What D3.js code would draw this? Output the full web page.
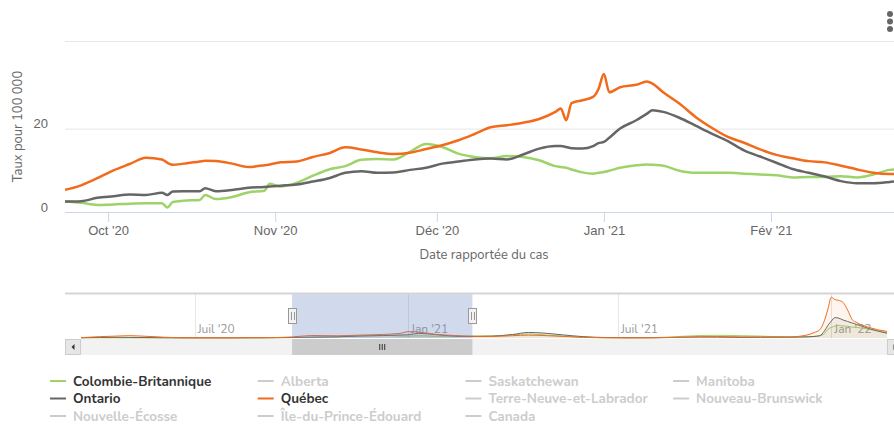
<!DOCTYPE html>
<html lang="fr">
<head>
<meta charset="utf-8">
<script src="https://cdn.jsdelivr.net/npm/d3@7"></script>
<style>
  html, body { margin: 0; padding: 0; background: #fff; overflow: hidden; }
  #chart { width: 894px; height: 425px; overflow: hidden; }
  svg { display: block; font-family: Nunito, Lato, 'Noto Sans', sans-serif; }
  .grid line { stroke: #e6e6e6; }
  .grid path { display: none; }
  .axis-label { fill: #666; font-size: 13px; }
</style>
</head>
<body>
<div id="chart"></div>
<script>
// DATA ------------------------

const dates = [
  '2020-09-23', '2020-09-26', '2020-09-29', '2020-10-02', '2020-10-05', '2020-10-08', '2020-10-11',
  '2020-10-12', '2020-10-13', '2020-10-15', '2020-10-18', '2020-10-19', '2020-10-21', '2020-10-24',
  '2020-10-27', '2020-10-30', '2020-10-31', '2020-11-02', '2020-11-05', '2020-11-08', '2020-11-11',
  '2020-11-14', '2020-11-17', '2020-11-20', '2020-11-23', '2020-11-26', '2020-11-29', '2020-12-02',
  '2020-12-05', '2020-12-08', '2020-12-11', '2020-12-14', '2020-12-17', '2020-12-20', '2020-12-23',
  '2020-12-24', '2020-12-25', '2020-12-26', '2020-12-28', '2020-12-30', '2020-12-31', '2021-01-01',
  '2021-01-02', '2021-01-04', '2021-01-07', '2021-01-09', '2021-01-10', '2021-01-12', '2021-01-15',
  '2021-01-18', '2021-01-21', '2021-01-24', '2021-01-27', '2021-01-30', '2021-02-02', '2021-02-05',
  '2021-02-08', '2021-02-11', '2021-02-14', '2021-02-17', '2021-02-20', '2021-02-23', '2021-02-25',
];

const bcValues = [
  2.5, 2.2, 1.7, 1.8, 2.0, 2.1, 2.1, 1.1, 2.4, 2.7,
  2.9, 4.1, 3.1, 3.6, 4.7, 5.1, 6.8, 6.1, 7.0, 8.7,
  10.2, 11.0, 12.5, 12.7, 12.6, 14.4, 16.3, 15.6, 14.0, 13.2,
  12.9, 13.4, 13.2, 12.4, 11.0, 10.8, 10.6, 10.2, 9.5, 9.2,
  9.4, 9.6, 9.9, 10.6, 11.2, 11.4, 11.3, 11.1, 9.9, 9.4,
  9.4, 9.4, 9.2, 9.0, 8.8, 8.3, 8.4, 8.4, 8.6, 8.3,
  9.0, 10.1, 10.3,
];

const onValues = [
  2.5, 2.6, 3.4, 3.8, 4.2, 4.1, 4.6, 4.1, 4.9, 5.0,
  5.0, 5.7, 5.0, 5.3, 5.8, 6.0, 6.1, 6.3, 6.6, 7.3,
  8.1, 9.4, 9.8, 9.4, 9.5, 10.1, 10.6, 11.6, 12.1, 12.6,
  12.8, 12.6, 13.8, 15.2, 15.8, 15.8, 15.6, 15.3, 15.2, 15.8,
  16.5, 16.8, 17.8, 20.0, 22.0, 23.6, 24.4, 24.0, 22.6, 20.7,
  18.8, 17.0, 14.8, 13.3, 11.8, 10.3, 9.4, 8.5, 7.4, 6.9,
  6.9, 7.2, 7.5,
];

const qcValues = [
  5.3, 6.4, 8.1, 10.0, 11.5, 13.0, 12.6, 11.8, 11.3, 11.6,
  12.1, 12.3, 12.2, 11.6, 10.8, 11.2, 11.4, 11.9, 12.1, 13.2,
  14.1, 15.5, 15.0, 14.3, 13.9, 14.2, 15.1, 16.0, 17.2, 18.7,
  20.3, 20.8, 21.4, 22.3, 24.0, 24.8, 22.0, 26.1, 26.8, 27.6,
  29.5, 33.1, 28.7, 29.9, 30.5, 31.3, 30.8, 28.7, 26.0, 22.8,
  20.2, 18.0, 16.6, 15.0, 13.7, 12.9, 12.2, 11.9, 11.1, 10.2,
  9.4, 9.1, 9.1,
];

// whole period, shown small in the navigator
const navDates = [
  '2020-03-25', '2020-04-10', '2020-04-25', '2020-05-06', '2020-05-20', '2020-06-05', '2020-06-22',
  '2020-08-01', '2020-09-01', '2020-09-23', '2020-10-10', '2020-11-01', '2020-11-20', '2020-12-10',
  '2020-12-25', '2021-01-01', '2021-01-10', '2021-01-25', '2021-02-10', '2021-02-25', '2021-03-15',
  '2021-04-01', '2021-04-15', '2021-05-01', '2021-05-15', '2021-06-01', '2021-06-20', '2021-07-10',
  '2021-08-01', '2021-08-20', '2021-09-10', '2021-09-25', '2021-10-15', '2021-11-01', '2021-11-26',
  '2021-12-10', '2021-12-17', '2021-12-22', '2021-12-26', '2021-12-29', '2022-01-01', '2022-01-04',
  '2022-01-07', '2022-01-11', '2022-01-15', '2022-01-19', '2022-01-23', '2022-01-28', '2022-02-03',
  '2022-02-10', '2022-02-18',
];
const navBc = [
  1, 0.8, 0.6, 0.4, 0.3, 0.3, 0.4, 1.0, 1.8,
  2.5, 2.1, 6, 12.6, 13.4, 10.6, 9.6, 11.3, 9.2, 8.4, 10.3,
  11, 17, 21, 15, 10, 5, 1.5, 0.8, 2, 7,
  13, 14, 12, 10, 5,
  6, 8, 12, 22, 45,
  55, 62, 66, 63, 61, 57, 55, 51, 45, 38, 27,
];
const navOn = [
  1, 3, 3.5, 3, 2.5, 1.5, 1, 0.6, 0.9,
  2.5, 5, 6.2, 9.8, 12.5, 15.6, 16.8, 24, 17.5, 10, 7.5,
  9.5, 18, 29, 24, 16, 7, 2.5, 1.3, 1.2, 3,
  5, 4.5, 3, 3.5, 4,
  6, 8, 12, 36, 65,
  88, 106, 104, 94, 86, 78, 70, 60, 48, 36, 25,
];
const navQc = [
  2, 7, 10, 12, 9, 4, 1.2, 1.2, 1.8,
  5.3, 13, 11.5, 15, 18.5, 24, 33, 31, 19, 13, 9,
  8.5, 12, 15, 12, 8, 3, 1.2, 1, 1.5, 3.5,
  7, 8, 6, 6, 6,
  14, 28, 43, 90, 150,
  212, 200, 196, 186, 146, 96, 80, 66, 54, 43, 34,
];

const legendNames = [
  'Colombie-Britannique', 'Alberta', 'Saskatchewan', 'Manitoba',
  'Ontario', 'Québec', 'Terre-Neuve-et-Labrador', 'Nouveau-Brunswick',
  'Nouvelle-Écosse', 'Île-du-Prince-Édouard', 'Canada',
];
const seriesColors = {
  'Colombie-Britannique': '#9ed36a',
  Ontario: '#666666',
  Québec: '#f26b1d',
};
const monthNames = ['Jan', 'Fév', 'Mar', 'Avr', 'Mai', 'Juin', 'Juil', 'Aoû', 'Sep', 'Oct', 'Nov', 'Déc'];
const yTicks = [0, 20];
const yMax = 41;
const viewRange = ['2020-09-23T00:00', '2021-02-25T12:00'];

// CHART -----------------------

const w = 910;
const h = 425;
const margin = { top: 41, right: 7, left: 65 };
const plotBottom = 212;
const plotRight = w - margin.right;
const graphWidth = plotRight - margin.left;

const parse = d3.utcParse('%Y-%m-%d');
const parseTime = d3.utcParse('%Y-%m-%dT%H:%M');
const fr = d3.timeFormatLocale({
  dateTime: '%A %e %B %Y à %X', date: '%d/%m/%Y', time: '%H:%M:%S', periods: ['', ''],
  days: ['dimanche', 'lundi', 'mardi', 'mercredi', 'jeudi', 'vendredi', 'samedi'],
  shortDays: ['dim', 'lun', 'mar', 'mer', 'jeu', 'ven', 'sam'],
  months: monthNames, shortMonths: monthNames,
});
const fmtMonth = fr.utcFormat("%b '%y");

const series = [
  { name: 'Colombie-Britannique', values: bcValues, nav: navBc },
  { name: 'Ontario', values: onValues, nav: navOn },
  { name: 'Québec', values: qcValues, nav: navQc },
];

const svg = d3
  .select('#chart')
  .append('svg')
  .attr('width', w)
  .attr('height', h);

svg.append('defs').append('clipPath').attr('id', 'plot-clip')
  .append('rect')
  .attr('x', margin.left)
  .attr('y', margin.top - 5)
  .attr('width', graphWidth)
  .attr('height', plotBottom - margin.top + 10);

// SCALES ----------------------

const xScale = d3
  .scaleUtc()
  .domain(viewRange.map(parseTime))
  .range([margin.left, plotRight]);

const yScale = d3
  .scaleLinear()
  .domain([0, yMax])
  .range([plotBottom, margin.top]);

// GRID & AXES -----------------

svg
  .append('g')
  .attr('class', 'grid')
  .attr('transform', `translate(${margin.left},0)`)
  .call(d3.axisLeft(yScale).tickValues([yTicks[1], yMax]).tickSize(-graphWidth).tickFormat(''));

const gYAxis = svg
  .append('g')
  .attr('transform', `translate(${margin.left},0)`)
  .call(d3.axisLeft(yScale).tickValues(yTicks).tickSize(0).tickPadding(17));
gYAxis.select('.domain').remove();
gYAxis.selectAll('text')
  .attr('dy', '-0.05em')
  .style('font-family', 'inherit')
  .style('font-size', '13px')
  .attr('fill', '#666');

const gXAxis = svg
  .append('g')
  .attr('transform', `translate(0,${plotBottom})`)
  .call(d3.axisBottom(xScale).ticks(d3.utcMonth.every(1)).tickSize(10).tickPadding(4).tickFormat(fmtMonth));
gXAxis.select('.domain').attr('stroke', '#ccd6eb').attr('d', `M${margin.left},0.5H${plotRight}`);
gXAxis.selectAll('.tick line').attr('stroke', '#ccd6eb');
gXAxis.selectAll('text')
  .style('font-family', 'inherit')
  .style('font-size', '13px')
  .attr('fill', '#666');

svg
  .append('text')
  .attr('class', 'axis-label')
  .attr('x', (margin.left + plotRight) / 2)
  .attr('y', 259)
  .style('text-anchor', 'middle')
  .text('Date rapportée du cas');

svg
  .append('text')
  .attr('class', 'axis-label')
  .attr('transform', `translate(22,${(margin.top + plotBottom) / 2}) rotate(-90)`)
  .style('text-anchor', 'middle')
  .text('Taux pour 100 000');

// LINES -----------------------

const line = d3
  .line()
  .x((d) => xScale(d.date))
  .y((d) => yScale(d.value))
  .curve(d3.curveMonotoneX);

svg
  .append('g')
  .attr('clip-path', 'url(#plot-clip)')
  .selectAll('path')
  .data(series)
  .enter()
  .append('path')
  .attr('fill', 'none')
  .attr('stroke', (s) => seriesColors[s.name])
  .attr('stroke-width', 2.5)
  .attr('stroke-linejoin', 'round')
  .attr('d', (s) => line(s.values.map((v, i) => ({ date: parse(dates[i]), value: v }))));

// NAVIGATOR -------------------

const navTop = 294;
const navBottom = 338;
const scrollH = 16;

const navX = d3
  .scaleUtc()
  .domain(d3.extent(navDates, parse))
  .range([margin.left + scrollH, plotRight - scrollH]);

const navY = d3
  .scaleLinear()
  .domain([0, d3.max(navQc) * 1.08])
  .range([navBottom, navTop]);

const navTicks = navX.ticks(d3.utcMonth.every(6)).filter((d) => d.getUTCMonth() % 6 === 0);

const nav = svg.append('g');

nav.selectAll('.nav-grid')
  .data(navTicks)
  .enter()
  .append('line')
  .attr('x1', (d) => Math.round(navX(d)) + 0.5)
  .attr('x2', (d) => Math.round(navX(d)) + 0.5)
  .attr('y1', navTop)
  .attr('y2', navBottom)
  .attr('stroke', '#e6e6e6');

nav.selectAll('.nav-label')
  .data(navTicks)
  .enter()
  .append('text')
  .attr('x', (d) => navX(d) + 3)
  .attr('y', 333)
  .attr('fill', '#999')
  .style('font-size', '12px')
  .text(fmtMonth);

const navArea = d3
  .area()
  .x((d) => navX(d.date))
  .y0(navY(0))
  .y1((d) => navY(d.value))
  .curve(d3.curveMonotoneX);

const navSeries = nav.selectAll('.nav-series')
  .data(series)
  .enter()
  .append('g');

navSeries.append('path')
  .attr('fill', (s) => seriesColors[s.name])
  .attr('fill-opacity', 0.07)
  .attr('d', (s) => navArea(s.nav.map((v, i) => ({ date: parse(navDates[i]), value: v }))));

navSeries.append('path')
  .attr('fill', 'none')
  .attr('stroke', (s) => seriesColors[s.name])
  .attr('stroke-width', 1)
  .attr('d', (s) => navArea.lineY1()(s.nav.map((v, i) => ({ date: parse(navDates[i]), value: v }))));

const selLeft = navX(xScale.domain()[0]);
const selRight = navX(xScale.domain()[1]);

nav.append('rect')
  .attr('x', selLeft)
  .attr('y', navTop)
  .attr('width', selRight - selLeft)
  .attr('height', navBottom - navTop)
  .attr('fill', 'rgba(102,133,194,0.3)');

nav.append('line')
  .attr('x1', margin.left)
  .attr('x2', plotRight)
  .attr('y1', navTop - 0.5)
  .attr('y2', navTop - 0.5)
  .attr('stroke', '#d5d5d5')
  .attr('stroke-width', 2);

// scrollbar
const sbY = navBottom + 1;
nav.append('rect')
  .attr('x', margin.left).attr('y', sbY)
  .attr('width', graphWidth).attr('height', scrollH)
  .attr('fill', '#f2f2f2');
nav.append('rect')
  .attr('x', selLeft).attr('y', sbY)
  .attr('width', selRight - selLeft).attr('height', scrollH)
  .attr('fill', '#cccccc');
[-2.5, 0, 2.5].forEach((dx) => {
  nav.append('line')
    .attr('x1', (selLeft + selRight) / 2 + dx).attr('x2', (selLeft + selRight) / 2 + dx)
    .attr('y1', sbY + 5).attr('y2', sbY + 11)
    .attr('stroke', '#333').attr('stroke-width', 1);
});
[margin.left, plotRight - scrollH].forEach((bx, i) => {
  nav.append('rect')
    .attr('x', bx + 0.5).attr('y', sbY + 0.5)
    .attr('width', scrollH - 1).attr('height', scrollH - 1)
    .attr('fill', '#e6e6e6').attr('stroke', '#cccccc');
  const cx = bx + scrollH / 2;
  const cy = sbY + scrollH / 2;
  nav.append('path')
    .attr('d', i === 0
      ? `M${cx + 1.5},${cy - 3}L${cx - 1.5},${cy}L${cx + 1.5},${cy + 3}Z`
      : `M${cx - 1.5},${cy - 3}L${cx + 1.5},${cy}L${cx - 1.5},${cy + 3}Z`)
    .attr('fill', '#333');
});

// handles
[selLeft, selRight].forEach((hx) => {
  const g = nav.append('g').attr('transform', `translate(${Math.round(hx)},308)`);
  g.append('rect')
    .attr('x', -3.5).attr('y', 0.5)
    .attr('width', 8).attr('height', 15)
    .attr('fill', '#f2f2f2').attr('stroke', '#999');
  [-1, 2].forEach((dx) => {
    g.append('line')
      .attr('x1', dx + 0.5).attr('x2', dx + 0.5)
      .attr('y1', 4).attr('y2', 12)
      .attr('stroke', '#999');
  });
});

// MENU ------------------------

svg.selectAll('.menu-dot')
  .data([14, 21.5, 29])
  .enter()
  .append('circle')
  .attr('cx', 890)
  .attr('cy', (d) => d)
  .attr('r', 3)
  .attr('fill', '#666');

// LEGEND ----------------------

const legend = svg
  .append('g')
  .selectAll('g')
  .data(legendNames)
  .enter()
  .append('g')
  .attr('transform', (d, i) => `translate(${50 + (i % 4) * 207.7},${381 + Math.floor(i / 4) * 17.5})`);

legend.append('line')
  .attr('x1', 0).attr('x2', 16)
  .attr('stroke', (d) => seriesColors[d] || '#cccccc')
  .attr('stroke-width', 2);

legend.append('text')
  .attr('x', 23)
  .attr('y', 4.5)
  .attr('fill', (d) => (seriesColors[d] ? '#333333' : '#cccccc'))
  .style('font-size', '13.5px')
  .style('font-weight', 'bold')
  .text((d) => d);
</script>
</body>
</html>
